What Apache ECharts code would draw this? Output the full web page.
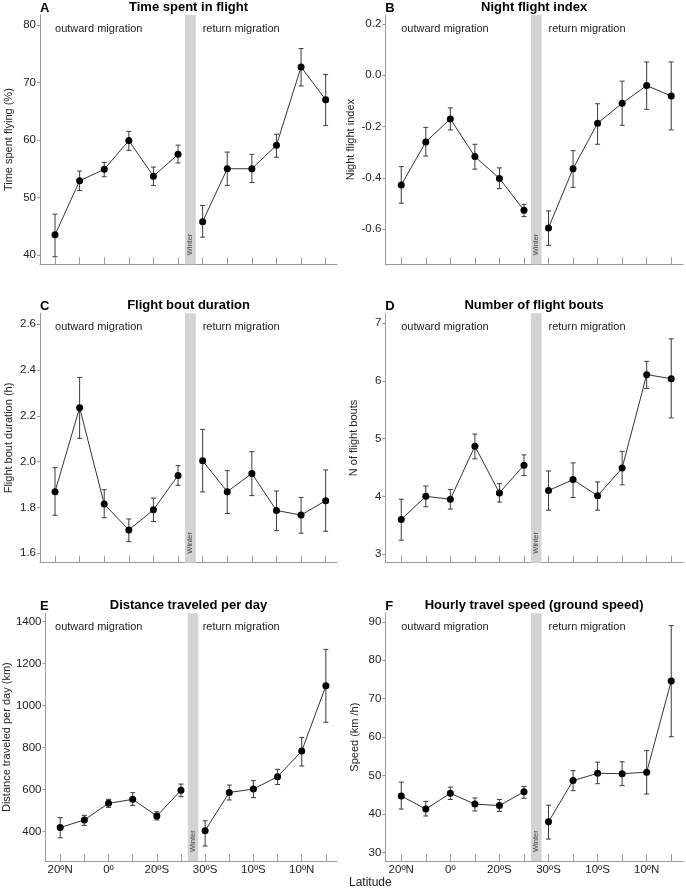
<!DOCTYPE html>
<html><head><meta charset="utf-8">
<script src="https://cdn.jsdelivr.net/npm/echarts@6/dist/echarts.min.js"></script>
<style>html,body{margin:0;padding:0;background:#fff}#c{width:686px;height:891px}</style>
</head><body><div id="c"></div>
<script>
// ---- data ----
const xPositions = [0,1,2,3,4,5,6,7,8,9,10,11];   // 0-5 outward, 6-11 return
const latitudeLabels = {0:'20ºN',2:'0º',4:'20ºS',6:'30ºS',8:'10ºS',10:'10ºN'};
const winterPosition = 5.5;

const timeMean = [43.5,52.9,54.9,59.9,53.7,57.5, 45.8,55.0,55.0,59.1,72.7,67.0];
const timeHi   = [47.1,54.6,56.1,61.5,55.3,59.1, 48.6,57.9,57.5,61.0,75.9,71.4];
const timeLo   = [39.7,51.2,53.6,58.2,52.1,56.0, 43.1,52.1,52.6,57.0,69.4,62.5];

const nightMean = [-0.428,-0.260,-0.170,-0.317,-0.402,-0.526, -0.595,-0.364,-0.187,-0.109,-0.040,-0.081];
const nightHi   = [-0.356,-0.203,-0.127,-0.269,-0.361,-0.503, -0.529,-0.294,-0.111,-0.023, 0.052, 0.052];
const nightLo   = [-0.499,-0.315,-0.213,-0.366,-0.442,-0.551, -0.663,-0.437,-0.269,-0.195,-0.133,-0.213];

const boutDurMean = [1.869,2.236,1.815,1.702,1.790,1.940, 2.004,1.869,1.949,1.787,1.767,1.830];
const boutDurHi   = [1.974,2.368,1.878,1.750,1.841,1.983, 2.141,1.961,2.044,1.872,1.844,1.964];
const boutDurLo   = [1.766,2.102,1.755,1.651,1.739,1.897, 1.868,1.774,1.852,1.699,1.688,1.696];

const boutNumMean = [3.60,4.00,3.95,4.87,4.06,4.54, 4.10,4.29,4.01,4.49,6.11,6.04];
const boutNumHi   = [3.95,4.18,4.12,5.08,4.22,4.72, 4.44,4.58,4.25,4.78,6.34,6.73];
const boutNumLo   = [3.24,3.82,3.78,4.65,3.90,4.36, 3.76,3.98,3.76,4.20,5.87,5.36];

const distMean = [420,456,535,554,475,597, 405,587,603,662,784,1095];
const distHi   = [467,478,554,586,495,627, 452,622,643,697,849,1268];
const distLo   = [371,430,516,525,456,567, 332,551,562,625,713,921];

const speedMean = [44.7,41.3,45.4,42.6,42.2,45.8, 38.0,48.7,50.6,50.5,50.9,74.6];
const speedHi   = [48.3,43.3,47.0,44.2,43.8,47.2, 42.3,51.3,53.5,53.6,56.5,89.0];
const speedLo   = [41.3,39.5,43.8,40.8,40.7,44.1, 33.5,46.1,47.9,47.4,45.2,60.1];

const yTicksTime  = [40,50,60,70,80];
const yTicksNight = [-0.6,-0.4,-0.2,0.0,0.2];
const yTicksDur   = [1.6,1.8,2.0,2.2,2.4,2.6];
const yTicksNum   = [3,4,5,6,7];
const yTicksDist  = [400,600,800,1000,1200,1400];
const yTicksSpeed = [30,40,50,60,70,80,90];

// ---- layout ----
const FONT = 'Liberation Sans, Arial, sans-serif';
const panels = [
  {letter:'A', title:'Time spent in flight', yName:'Time spent flying (%)', mean:timeMean, hi:timeHi, lo:timeLo, ticks:yTicksTime, dec:0,
   left:40, top:15, width:297, height:249.3, xmin:-0.61, xmax:11.46, ymin:38.38, ymax:81.74, nameGap:26, xLabels:false},
  {letter:'B', title:'Night flight index', yName:'Night flight index', mean:nightMean, hi:nightHi, lo:nightLo, ticks:yTicksNight, dec:1,
   left:385.3, top:15, width:297.7, height:249.3, xmin:-0.65, xmax:11.48, ymin:-0.737, ymax:0.235, nameGap:29, xLabels:false},
  {letter:'C', title:'Flight bout duration', yName:'Flight bout duration (h)', mean:boutDurMean, hi:boutDurHi, lo:boutDurLo, ticks:yTicksDur, dec:1,
   left:40, top:313.3, width:297, height:249.4, xmin:-0.61, xmax:11.46, ymin:1.559, ymax:2.648, nameGap:26, xLabels:false},
  {letter:'D', title:'Number of flight bouts', yName:'N of flight bouts', mean:boutNumMean, hi:boutNumHi, lo:boutNumLo, ticks:yTicksNum, dec:0,
   left:385.3, top:313.3, width:297.7, height:249.4, xmin:-0.65, xmax:11.48, ymin:2.85, ymax:7.173, nameGap:26, xLabels:false},
  {letter:'E', title:'Distance traveled per day', yName:'Distance traveled per day (km)', mean:distMean, hi:distHi, lo:distLo, ticks:yTicksDist, dec:0,
   left:40, top:613.3, width:297, height:247.7, xmin:-0.61, xmax:11.46, ymin:260.5, ymax:1440, nameGap:26, xLabels:true},
  {letter:'F', title:'Hourly travel speed (ground speed)', yName:'Speed (km /h)', mean:speedMean, hi:speedHi, lo:speedLo, ticks:yTicksSpeed, dec:0,
   left:385.3, top:613.3, width:297.7, height:247.7, xmin:-0.65, xmax:11.48, ymin:27.8, ymax:92.2, nameGap:25, xLabels:true}
];

const AXIS_COLOR = '#9a9a9a';
const grids = [], xAxes = [], yAxes = [], series = [], graphics = [];

panels.forEach((p, i) => {
  grids.push({left:p.left, top:p.top, width:p.width, height:p.height, containLabel:false});
  xAxes.push({
    type:'value', gridIndex:i, min:p.xmin, max:p.xmax,
    splitLine:{show:false},
    axisLine:{show:true, onZero:false, lineStyle:{color:AXIS_COLOR, width:1}},
    axisTick:{show:true, inside:true, length:7, lineStyle:{color:AXIS_COLOR}, customValues:xPositions},
    axisLabel:{show:p.xLabels, margin:3, fontFamily:FONT, fontSize:11.5, color:'#222',
      customValues:Object.keys(latitudeLabels).map(Number),
      formatter:v => latitudeLabels[Math.round(v)] || ''}
  });
  yAxes.push({
    type:'value', gridIndex:i, min:p.ymin, max:p.ymax,
    splitLine:{show:false},
    axisLine:{show:true, onZero:false, lineStyle:{color:AXIS_COLOR, width:1}},
    axisTick:{show:true, inside:false, length:3, lineStyle:{color:AXIS_COLOR}, customValues:p.ticks},
    axisLabel:{margin:4, fontFamily:FONT, fontSize:11.5, color:'#222', customValues:p.ticks,
      formatter:v => Number(v).toFixed(p.dec)},
    name:p.yName, nameLocation:'middle', nameGap:p.nameGap,
    nameTextStyle:{fontFamily:FONT, fontSize:11, color:'#222'}
  });

  // winter band
  series.push({
    type:'custom', xAxisIndex:i, yAxisIndex:i, silent:true, z:1,
    data:[[winterPosition, p.ymin]],
    renderItem:(params, api) => {
      const cs = params.coordSys;
      const xa = api.coord([winterPosition - 0.2175, p.ymin])[0];
      const xb = api.coord([winterPosition + 0.2175, p.ymin])[0];
      const cx = (xa + xb) / 2;
      return {type:'group', children:[
        {type:'rect', shape:{x:xa, y:cs.y, width:xb - xa, height:cs.height}, style:{fill:'#d3d3d3'}},
        {type:'text', x:cx, y:cs.y + cs.height - 9, rotation:Math.PI/2,
         style:{text:'Winter', fill:'#444', font:'7.5px ' + FONT, align:'left', verticalAlign:'middle'}}
      ]};
    }
  });

  // error bars
  series.push({
    type:'custom', xAxisIndex:i, yAxisIndex:i, silent:true, z:3,
    data:xPositions.map((x, k) => [x, p.lo[k], p.hi[k]]),
    renderItem:(params, api) => {
      const x = api.value(0);
      const a = api.coord([x, api.value(2)]);
      const b = api.coord([x, api.value(1)]);
      const st = {stroke:'#3a3a3a', lineWidth:1};
      return {type:'group', children:[
        {type:'line', shape:{x1:a[0], y1:a[1], x2:b[0], y2:b[1]}, style:st},
        {type:'line', shape:{x1:a[0]-2.5, y1:a[1], x2:a[0]+2.5, y2:a[1]}, style:st},
        {type:'line', shape:{x1:b[0]-2.5, y1:b[1], x2:b[0]+2.5, y2:b[1]}, style:st}
      ]};
    }
  });

  // lines + points
  [[0,6],[6,12]].forEach(([s,e]) => {
    series.push({
      type:'line', xAxisIndex:i, yAxisIndex:i, z:4,
      data:xPositions.slice(s,e).map((x,k) => [x, p.mean[s+k]]),
      symbol:'circle', symbolSize:7, showSymbol:true,
      itemStyle:{color:'#000'},
      lineStyle:{color:'#333', width:1},
      animation:false
    });
  });

  // texts
  const cx = p.left + p.width / 2;
  graphics.push({type:'text', x:p.left, y:p.top - 7,
    style:{text:p.letter, font:'bold 13px ' + FONT, fill:'#000', align:'left', verticalAlign:'middle'}});
  graphics.push({type:'text', x:cx, y:p.top - 7.5,
    style:{text:p.title, font:'bold 13px ' + FONT, fill:'#000', align:'center', verticalAlign:'middle'}});
  const x0 = p.left + (0 - p.xmin) / (p.xmax - p.xmin) * p.width;
  const x6 = p.left + (6 - p.xmin) / (p.xmax - p.xmin) * p.width;
  graphics.push({type:'text', x:x0, y:p.top + 14,
    style:{text:'outward migration', font:'11px ' + FONT, fill:'#222', align:'left', verticalAlign:'middle'}});
  graphics.push({type:'text', x:x6, y:p.top + 14,
    style:{text:'return migration', font:'11px ' + FONT, fill:'#222', align:'left', verticalAlign:'middle'}});
});

graphics.push({type:'text', x:349, y:883,
  style:{text:'Latitude', font:'12px ' + FONT, fill:'#222', align:'left', verticalAlign:'middle'}});

const chart = echarts.init(document.getElementById('c'), null, {renderer:'canvas'});
chart.setOption({
  animation:false,
  backgroundColor:'#fff',
  grid:grids, xAxis:xAxes, yAxis:yAxes, series:series, graphic:graphics
});
</script>
</body></html>
